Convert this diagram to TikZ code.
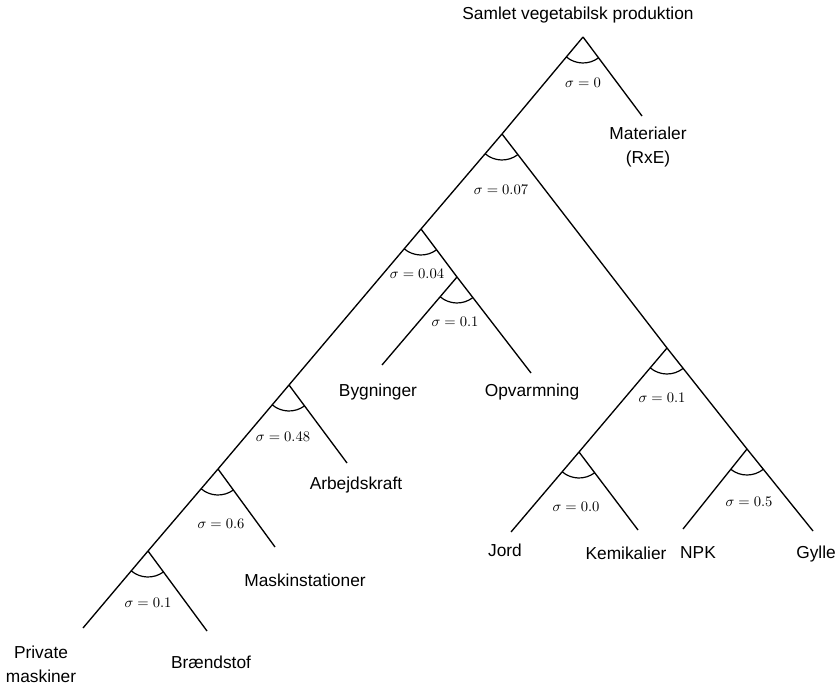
\documentclass[tikz,border=0pt]{standalone}
\usepackage{fontspec}
\setmainfont{Liberation Sans}
\usetikzlibrary{angles}

\begin{document}
\begin{tikzpicture}[x=0.75pt,y=0.75pt,line width=1pt,
      leaf/.style={font=\fontsize{13}{18}\selectfont,align=center,inner sep=0pt},
      sig/.style={font=\fontsize{11}{13}\selectfont,inner sep=0pt},
      nest/.style={draw,line width=0.9pt,angle radius=19.5pt}]
      \useasboundingbox (0,0) rectangle (838,686);

      \coordinate (top) at (583, 649);
      \coordinate (n07) at (502, 552);
      \coordinate (n04) at (421, 457);
      \coordinate (n048) at (289, 301);
      \coordinate (n06) at (218, 217);
      \coordinate (n01a) at (148, 135);
      \coordinate (n01b) at (457, 409);
      \coordinate (n01c) at (667, 338);
      \coordinate (n00) at (579, 234);
      \coordinate (n05) at (747, 237);

      \coordinate (mat) at (642, 570);
      \coordinate (priv) at (83, 58);
      \coordinate (braend) at (207, 55);
      \coordinate (mask) at (275, 139);
      \coordinate (arb) at (347, 223);
      \coordinate (byg) at (382, 321);
      \coordinate (opv) at (531, 313);
      \coordinate (jord) at (511, 154);
      \coordinate (kem) at (638, 156);
      \coordinate (npk) at (683, 157);
      \coordinate (gylle) at (813, 155);

      \node[leaf] (title) at (578, 671) {Samlet vegetabilsk produktion};
      \node[leaf] (lmat) at (648, 539) {Materialer\\(RxE)};
      \node[leaf] (lbyg) at (378, 294) {Bygninger};
      \node[leaf] (lopv) at (532, 294) {Opvarmning};
      \node[leaf] (larb) at (356, 201) {Arbejdskraft};
      \node[leaf] (lmask) at (305, 106) {Maskinstationer};
      \node[leaf] (lbraend) at (211, 24) {Brændstof};
      \node[leaf] (lpriv) at (41, 22) {Private\\maskiner};
      \node[leaf] (ljord) at (505, 136) {Jord};
      \node[leaf] (lkem) at (626, 133) {Kemikalier};
      \node[leaf] (lnpk) at (698, 133) {NPK};
      \node[leaf] (lgylle) at (816, 132) {Gylle};

      \node[sig] (s0) at (583, 603) {$\sigma = 0$};
      \node[sig] (s07) at (501, 496) {$\sigma = 0.07$};
      \node[sig] (s04) at (417, 412) {$\sigma = 0.04$};
      \node[sig] (s01b) at (455, 364) {$\sigma = 0.1$};
      \node[sig] (s048) at (283, 249) {$\sigma = 0.48$};
      \node[sig] (s06) at (221, 162) {$\sigma = 0.6$};
      \node[sig] (s01a) at (148, 83) {$\sigma = 0.1$};
      \node[sig] (s01c) at (662, 288) {$\sigma = 0.1$};
      \node[sig] (s00) at (576, 179) {$\sigma = 0.0$};
      \node[sig] (s05) at (749, 184) {$\sigma = 0.5$};

      \draw (top) -- (n07) -- (n04) -- (n048) -- (n06) -- (n01a) -- (priv);
      \draw (top) -- (mat);
      \draw (n07) -- (n01c) -- (n05) -- (gylle);
      \draw (n04) -- (n01b) -- (opv);
      \draw (n01b) -- (byg);
      \draw (n048) -- (arb);
      \draw (n06) -- (mask);
      \draw (n01a) -- (braend);
      \draw (n01c) -- (n00) -- (jord);
      \draw (n00) -- (kem);
      \draw (n05) -- (npk);

      \pic[nest] {angle = n07--top--mat};
      \pic[nest] {angle = n04--n07--n01c};
      \pic[nest] {angle = n048--n04--n01b};
      \pic[nest] {angle = byg--n01b--opv};
      \pic[nest] {angle = n06--n048--arb};
      \pic[nest] {angle = n01a--n06--mask};
      \pic[nest] {angle = priv--n01a--braend};
      \pic[nest] {angle = n00--n01c--n05};
      \pic[nest] {angle = jord--n00--kem};
      \pic[nest] {angle = npk--n05--gylle};

\end{tikzpicture}
\end{document}
